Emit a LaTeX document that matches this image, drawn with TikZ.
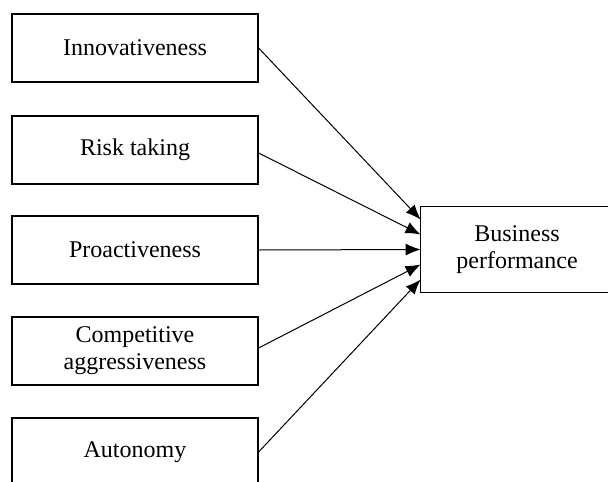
\documentclass[tikz,border=0pt]{standalone}
\usepackage{fontspec}
\setmainfont{Liberation Serif}
\usetikzlibrary{arrows.meta}

\begin{document}
\begin{tikzpicture}[x=0.5pt,y=-0.5pt,>={Latex[length=7.5pt,width=6pt]},
	dim/.style={draw,line width=0.6pt,minimum width=123pt,minimum height=34pt,inner sep=0pt,align=center,font=\fontsize{12}{13.5}\selectfont},
	outcome/.style={minimum width=96pt,minimum height=42.5pt,inner sep=0pt,align=center,font=\fontsize{12}{13.5}\selectfont}]
	\clip (0,0) rectangle (608,481);
	\useasboundingbox (0,0) rectangle (608,481);
	\node[dim] (innov) at (135,48) {Innovativeness};
	\node[dim] (risk) at (135,150) {Risk taking};
	\node[dim] (proact) at (135,250) {Proactiveness};
	\node[dim] (compet) at (135,351) {Competitive\\aggressiveness};
	\node[dim] (auton) at (135,452) {Autonomy};
	\node[outcome] (perf) at (517,249.5) {Business\\performance};
	% box runs off the right side of the page
	\draw[line width=0.6pt] (perf.north west) rectangle ([xshift=20pt]perf.south east);
	\draw[->,line width=0.5pt] (innov.east) -- ([yshift=15pt]perf.west);
	\draw[->,line width=0.5pt] ([yshift=-1.5pt]risk.east) -- ([yshift=7.5pt]perf.west);
	\draw[->,line width=0.5pt] (proact.east) -- (perf.west);
	\draw[->,line width=0.5pt] ([yshift=1.5pt]compet.east) -- ([yshift=-7.5pt]perf.west);
	\draw[->,line width=0.5pt] (auton.east) -- ([yshift=-15pt]perf.west);
\end{tikzpicture}
\end{document}
